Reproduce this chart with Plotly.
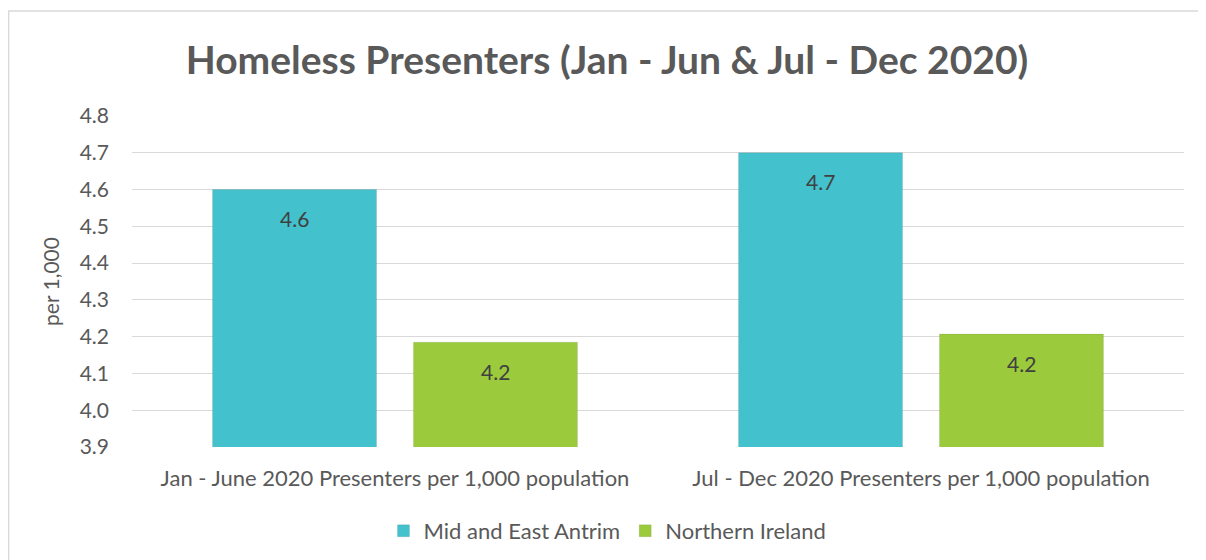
import plotly.graph_objects as go

categories = ["Jan - June 2020 Presenters per 1,000 population",
              "Jul - Dec 2020 Presenters per 1,000 population"]
series_names = ["Mid and East Antrim", "Northern Ireland"]
mea_values = [4.6, 4.7]
ni_values = [4.185, 4.207]
mea_labels = ["4.6", "4.7"]
ni_labels = ["4.2", "4.2"]
y_ticks = [3.9, 4.0, 4.1, 4.2, 4.3, 4.4, 4.5, 4.6, 4.7, 4.8]

colors = ["#43C1CC", "#9BCA3C"]
font_family = "Lato, Carlito, Calibri, sans-serif"
text_color = "#595959"

fig = go.Figure()
for name, vals, col in zip(series_names, [mea_values, ni_values], colors):
    fig.add_trace(go.Bar(
        x=categories, y=vals, name=name,
        marker=dict(color=col, line=dict(color="rgba(0,0,0,0.08)", width=1)),
        hoverinfo="skip",
    ))

for vals, labels, shift in [(mea_values, mea_labels, -100.5), (ni_values, ni_labels, 100.5)]:
    for c, v, lab in zip(categories, vals, labels):
        fig.add_annotation(x=c, y=v, text=lab, showarrow=False, xshift=shift,
                           yshift=-29, yanchor="middle",
                           font=dict(family=font_family, size=21, color="#404040"))

fig.add_shape(type="rect", xref="paper", yref="paper",
              x0=-0.1173, x1=1.04, y0=-0.45, y1=1.317,
              line=dict(color="#D9D9D9", width=1.5), fillcolor="rgba(0,0,0,0)", layer="below")

fig.update_layout(
    width=1198, height=552,
    margin=dict(l=124, r=22, t=108, b=113),
    paper_bgcolor="white", plot_bgcolor="white",
    barmode="group", bargap=0.236, bargroupgap=0.184,
    title=dict(text="<b>Homeless Presenters (Jan - Jun & Jul - Dec 2020)</b>",
               x=0.5, xanchor="center", y=0.906, yanchor="middle",
               font=dict(family=font_family, size=39, color=text_color)),
    font=dict(family=font_family, size=21, color=text_color),
    legend=dict(orientation="h", x=0.452, xanchor="center",
                yref="container", y=0.0525, yanchor="middle",
                font=dict(family=font_family, size=22, color=text_color),
                itemwidth=30, traceorder="normal"),
    showlegend=True,
)
fig.update_yaxes(range=[3.9, 4.8], tickvals=y_ticks, tickformat=".1f",
                 showgrid=True, gridcolor="#D9D9D9", gridwidth=1.3,
                 zeroline=False, showline=False, ticks="", ticklen=0,
                 ticklabelstandoff=22, automargin=False,
                 tickfont=dict(size=21, color=text_color),
                 title=dict(text="per 1,000", standoff=14,
                            font=dict(size=21, color=text_color)))
fig.update_xaxes(showgrid=False, showline=False, ticks="",
                 ticklabelstandoff=16, automargin=False,
                 tickfont=dict(size=22, color=text_color))

fig.write_html("out.html")
